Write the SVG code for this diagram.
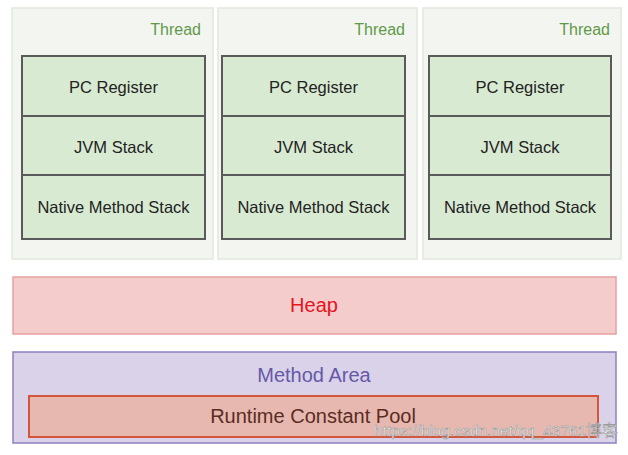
<svg xmlns="http://www.w3.org/2000/svg" width="628" height="455" viewBox="0 0 628 455">
<style>
text{font-family:"Liberation Sans",Arial,sans-serif;}
.panel{fill:#f3f5f1;stroke:#e2e9dd;stroke-width:1.5;}
.cell{fill:#d9ead3;stroke:#5a5a5a;stroke-width:2;}
.tl{font-size:16px;fill:#5f9a48;text-anchor:end;}
.ct{font-size:16.5px;fill:#222;text-anchor:middle;}
.big{font-size:20px;text-anchor:middle;}
</style>
<rect width="628" height="455" fill="#fff"/>
<g id="thread1">
<rect class="panel" x="12" y="8" width="201" height="251"/>
<text class="tl" x="201" y="35">Thread</text>
<rect class="cell" x="22" y="56" width="183" height="60"/>
<rect class="cell" x="22" y="116" width="183" height="59"/>
<rect class="cell" x="22" y="175" width="183" height="64"/>
<text class="ct" x="113.5" y="93">PC Register</text>
<text class="ct" x="113.5" y="153">JVM Stack</text>
<text class="ct" x="113.5" y="213">Native Method Stack</text>
</g>
<g id="thread2">
<rect class="panel" x="218" y="8" width="199" height="251"/>
<text class="tl" x="405" y="35">Thread</text>
<rect class="cell" x="222" y="56" width="183" height="60"/>
<rect class="cell" x="222" y="116" width="183" height="59"/>
<rect class="cell" x="222" y="175" width="183" height="64"/>
<text class="ct" x="313.5" y="93">PC Register</text>
<text class="ct" x="313.5" y="153">JVM Stack</text>
<text class="ct" x="313.5" y="213">Native Method Stack</text>
</g>
<g id="thread3">
<rect class="panel" x="423" y="8" width="198" height="251"/>
<text class="tl" x="610" y="35">Thread</text>
<rect class="cell" x="429" y="56" width="182" height="60"/>
<rect class="cell" x="429" y="116" width="182" height="59"/>
<rect class="cell" x="429" y="175" width="182" height="64"/>
<text class="ct" x="520" y="93">PC Register</text>
<text class="ct" x="520" y="153">JVM Stack</text>
<text class="ct" x="520" y="213">Native Method Stack</text>
</g>
<g id="heap">
<rect x="13" y="277" width="603" height="57" fill="#f4cccc" stroke="#e6a0a0" stroke-width="1.5"/>
<text class="big" x="314" y="312" fill="#e5141e">Heap</text>
</g>
<g id="method-area">
<rect x="13" y="352" width="603" height="91" fill="#d9d2e9" stroke="#8e80c0" stroke-width="1.5"/>
<text class="big" x="314" y="382" fill="#6658a8">Method Area</text>
</g>
<g id="runtime-constant-pool">
<rect x="29" y="396" width="569" height="41" fill="#e6b8af" stroke="#d4553a" stroke-width="2"/>
<text class="big" x="313" y="423" fill="#5a2c22">Runtime Constant Pool</text>
</g>
<g id="watermark">
<text x="374" y="436" font-size="15.5" fill="#fff" stroke="#9a9a9a" stroke-width="0.6" font-family="'Liberation Sans','Noto Sans CJK SC',sans-serif">https://blog.csdn.net/qq_43761博客</text>
</g>
</svg>
